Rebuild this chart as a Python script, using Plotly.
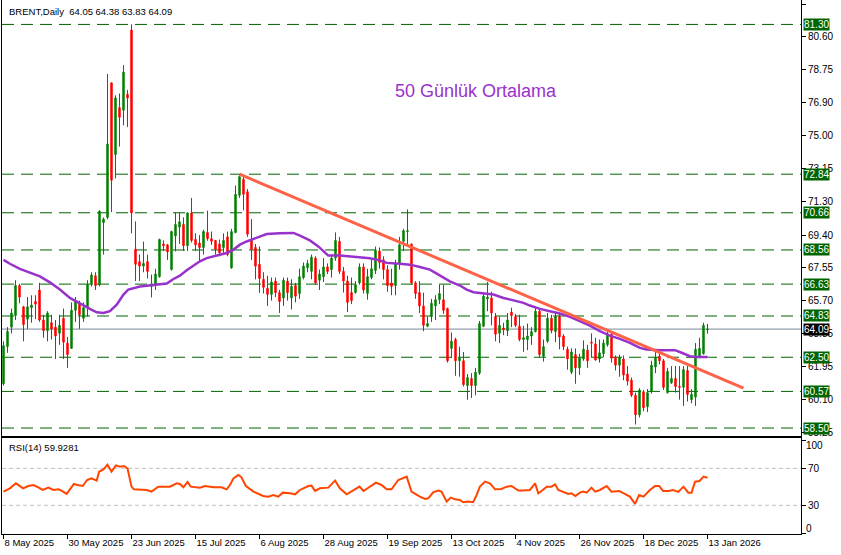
import plotly.graph_objects as go

# ---------------- data ----------------
opens = [61.0, 63.1, 64.2, 64.85, 66.55, 65.35, 64.65, 65.3, 65.65, 66.3,
         64.6, 64.0, 64.45, 64.2, 63.85, 64.7, 63.3, 63.0, 65.15, 65.5,
         64.7, 65.3, 66.6, 67.1, 66.6, 70.1, 70.4, 78.0, 73.95, 76.6,
         76.45, 77.35, 80.98, 68.6, 67.9, 67.65, 67.9, 66.5, 66.6, 67.05,
         68.9, 68.85, 67.45, 69.35, 69.85, 70.0, 68.8, 70.65, 69.15, 68.95,
         68.7, 69.55, 69.2, 69.1, 68.9, 68.7, 69.3, 67.55, 69.55, 71.65,
         72.55, 71.85, 69.15, 68.7, 67.75, 66.9, 66.4, 66.05, 66.8, 66.15,
         65.85, 66.8, 65.85, 66.55, 66.1, 67.0, 67.55, 67.35, 68.1, 66.85,
         67.05, 67.6, 67.45, 68.1, 69.05, 67.35, 66.8, 66.15, 66.15, 66.7,
         67.6, 66.1, 67.0, 67.4, 68.5, 68.0, 67.45, 66.7, 66.55, 67.8,
         69.05, 69.6, 68.9, 66.7, 66.15, 65.4, 64.25, 64.8, 65.4, 65.75,
         65.75, 65.25, 63.0, 63.5, 62.3, 62.3, 60.9, 61.3, 60.9, 61.6,
         64.25, 65.8, 65.85, 64.8, 63.85, 64.15, 64.0, 65.05, 64.8, 64.25,
         63.5, 63.5, 63.7, 63.95, 65.1, 62.55, 63.4, 64.7, 63.95, 64.8,
         63.7, 62.95, 61.65, 62.65, 61.9, 62.4, 62.9, 63.35, 63.25, 62.4,
         62.7, 63.2, 63.8, 62.5, 62.05, 62.4, 61.55, 61.2, 60.35, 59.25,
         60.55, 59.7, 60.55, 61.95, 62.55, 62.3, 60.5, 61.05, 61.3, 60.85,
         60.8, 61.75, 60.1, 60.25, 62.5, 62.7, 64.05]
highs = [63.4, 64.2, 65.25, 66.85, 66.65, 65.4, 65.9, 66.0, 66.0, 66.7,
         64.9, 65.1, 64.9, 64.6, 64.9, 65.25, 63.65, 65.6, 65.9, 65.7,
         65.6, 66.85, 67.3, 67.3, 70.8, 70.4, 78.5, 78.0, 77.3, 77.4,
         79.0, 77.6, 81.3, 70.17, 68.3, 69.03, 68.3, 67.17, 67.5, 69.2,
         69.1, 68.9, 69.65, 70.68, 70.68, 70.4, 70.68, 71.5, 69.5, 69.4,
         69.7, 70.78, 69.6, 69.1, 69.15, 69.5, 69.6, 69.75, 72.2, 72.84,
         72.8, 72.0, 70.3, 68.9, 68.76, 67.3, 67.1, 67.0, 67.0, 66.3,
         67.0, 67.0, 66.9, 66.7, 67.5, 67.85, 68.0, 68.3, 68.2, 67.45,
         68.1, 67.8, 68.3, 69.55, 69.3, 67.6, 67.1, 67.0, 66.8, 67.8,
         67.8, 67.5, 68.0, 68.75, 68.7, 68.2, 67.7, 67.5, 68.0, 69.3,
         69.75, 70.85, 68.9, 66.8, 66.8, 66.15, 64.8, 65.8, 66.0, 66.6,
         66.6, 65.3, 63.9, 63.6, 63.1, 62.8, 61.55, 61.6, 61.9, 64.55,
         66.15, 66.75, 66.2, 65.0, 64.8, 64.45, 65.0, 65.3, 64.95, 64.9,
         64.27, 64.4, 64.2, 65.3, 65.25, 63.5, 65.0, 64.9, 65.0, 65.0,
         63.8, 63.1, 63.0, 63.0, 62.7, 63.45, 63.2, 63.85, 63.6, 63.5,
         63.5, 64.1, 63.9, 62.6, 62.65, 62.6, 62.0, 61.35, 60.5, 60.75,
         60.65, 60.7, 62.3, 62.8, 62.85, 62.4, 61.9, 62.0, 62.0, 62.0,
         62.0, 62.0, 60.7, 63.3, 63.6, 64.45, 64.38]
lows = [60.9, 62.75, 63.85, 64.6, 65.55, 63.4, 64.1, 64.45, 64.65, 64.5,
        63.6, 63.4, 63.5, 62.4, 63.2, 62.4, 61.9, 63.0, 64.5, 64.1,
        64.5, 64.8, 66.5, 66.3, 66.5, 68.3, 70.3, 70.7, 72.6, 74.4,
        75.6, 75.5, 69.5, 66.8, 66.8, 67.3, 66.95, 65.88, 66.3, 67.0,
        68.5, 68.0, 67.4, 68.48, 68.9, 68.5, 68.5, 68.98, 68.5, 67.85,
        68.3, 69.08, 68.85, 68.3, 68.2, 68.35, 68.2, 67.5, 69.5, 71.5,
        70.8, 69.3, 68.0, 66.9, 66.14, 66.1, 65.4, 65.7, 65.9, 65.0,
        65.4, 65.7, 65.2, 65.6, 65.8, 66.9, 67.3, 66.9, 66.6, 66.3,
        66.75, 67.2, 67.0, 67.95, 67.2, 66.15, 65.05, 65.5, 66.1, 66.6,
        66.1, 65.75, 66.9, 67.2, 67.5, 66.9, 66.2, 66.0, 66.0, 67.45,
        68.5, 68.8, 66.6, 65.8, 65.0, 63.97, 64.2, 64.5, 64.6, 65.5,
        64.95, 62.2, 62.45, 61.45, 61.4, 60.85, 60.1, 60.2, 60.35, 61.5,
        64.2, 65.1, 64.3, 63.4, 63.3, 63.75, 63.7, 64.2, 64.2, 63.4,
        62.8, 62.9, 63.2, 63.9, 62.5, 62.25, 63.3, 63.85, 63.35, 62.95,
        62.9, 61.8, 61.55, 61.0, 61.5, 62.3, 61.9, 62.5, 62.3, 62.2,
        62.5, 63.1, 62.2, 61.75, 61.4, 61.2, 60.9, 60.25, 58.7, 59.1,
        59.45, 59.4, 60.45, 61.6, 62.1, 60.65, 60.45, 61.0, 60.5, 60.1,
        59.75, 60.0, 59.9, 59.75, 62.45, 62.65, 63.83]
closes = [63.15, 63.95, 65.0, 66.55, 65.9, 64.35, 65.35, 65.45, 65.5, 64.6,
          64.0, 65.0, 64.1, 63.7, 64.3, 63.35, 62.65, 65.15, 65.65, 64.9,
          65.3, 66.6, 67.15, 66.55, 70.75, 70.3, 74.55, 72.5, 77.15, 76.05,
          78.6, 77.15, 70.65, 67.75, 67.65, 67.8, 67.35, 66.65, 67.2, 69.15,
          68.8, 68.45, 69.6, 70.0, 70.15, 68.8, 70.65, 69.1, 68.85, 68.7,
          69.6, 69.2, 69.05, 68.6, 68.4, 69.1, 68.3, 69.6, 71.7, 72.7,
          71.7, 69.45, 68.6, 67.65, 66.95, 66.45, 66.05, 66.75, 66.15, 65.65,
          66.85, 66.15, 66.5, 65.95, 67.05, 67.65, 67.8, 68.15, 66.7, 67.2,
          67.6, 67.35, 68.1, 69.1, 67.35, 66.8, 65.6, 65.7, 66.6, 67.6,
          66.3, 67.05, 67.5, 68.55, 67.85, 67.45, 66.55, 66.5, 67.8, 68.85,
          69.65, 69.65, 66.7, 66.1, 65.4, 64.3, 64.4, 65.55, 65.75, 66.1,
          65.15, 62.3, 63.4, 62.3, 62.45, 60.95, 61.35, 60.9, 61.65, 64.4,
          65.95, 65.9, 65.0, 63.8, 64.3, 64.05, 64.6, 64.85, 64.3, 63.5,
          63.6, 63.7, 63.95, 65.1, 62.65, 63.1, 64.7, 64.0, 64.8, 63.65,
          63.1, 62.4, 62.8, 61.9, 62.45, 62.95, 62.3, 63.3, 62.35, 62.75,
          63.3, 63.8, 62.45, 62.05, 62.5, 61.5, 61.15, 60.35, 59.25, 60.65,
          59.65, 60.5, 62.05, 62.5, 62.3, 60.8, 61.7, 61.3, 60.85, 60.8,
          61.8, 60.4, 60.4, 62.95, 63.0, 64.3, 64.09]
bars = list(range(len(opens)))

# 50-day moving average, sampled along the bar axis
ma_x = [0, 1.6, 4.1, 6.6, 9.1, 11.6, 14.1, 16.6, 19.1, 21.6, 23.3, 25.0, 26.6,
        28.3, 30.0, 31.2, 34.1, 36.6, 39.1, 40.8, 42.5, 44.1, 45.8, 47.5, 49.1,
        50.8, 53.3, 55.8, 57.5, 59.1, 60.8, 62.5, 64.1, 65.8, 69.1, 72.5, 74.1,
        76.6, 78.7, 80.0, 81.2, 84.1, 86.6, 89.1, 91.6, 94.1, 95.8, 99.1, 101.6,
        104.1, 106.6, 108.3, 110.0, 111.6, 114.1, 115.8, 117.5, 120.0, 122.5,
        125.0, 127.5, 130.0, 131.6, 134.1, 136.6, 139.1, 141.6, 144.1, 146.6,
        149.1, 151.6, 154.1, 156.6, 159.1, 160.8, 164.1, 167.9, 170.0, 171.6,
        173.3, 176.0]
ma_y = [68.0, 67.78, 67.49, 67.26, 67.07, 66.73, 66.32, 65.85, 65.52, 65.23, 65.04,
        65.0, 65.1, 65.47, 66.04, 66.32, 66.5, 66.56, 66.6, 66.66, 66.92, 67.11,
        67.41, 67.68, 67.92, 68.1, 68.24, 68.39, 68.58, 68.86, 69.04, 69.18, 69.33,
        69.46, 69.5, 69.52, 69.37, 69.1, 68.76, 68.48, 68.24, 68.24, 68.2, 68.16,
        68.09, 67.97, 67.83, 67.78, 67.73, 67.6, 67.45, 67.22, 66.98, 66.79, 66.55,
        66.32, 66.17, 66.1, 66.04, 65.85, 65.72, 65.57, 65.42, 65.23, 65.1, 64.97,
        64.78, 64.53, 64.29, 63.97, 63.72, 63.54, 63.31, 63.03, 62.94, 62.9, 62.9,
        62.71, 62.56, 62.51, 62.51]

# RSI(14), sampled along the bar axis
rsi_x = [0, 1.6, 3.1, 4.1, 4.9, 6.2, 7.5, 8.7, 9.8, 11.2, 12.5, 13.7, 14.5, 15.8,
         16.8, 17.6, 18.5, 19.8, 20.9, 22.0, 23.3, 23.9, 25.0, 26.0, 27.0, 28.1,
         29.1, 30.1, 31.0, 32.0, 32.6, 35.0, 35.8, 37.0, 38.7, 41.6, 43.3, 44.1,
         45.0, 46.0, 46.8, 49.1, 50.4, 52.5, 54.5, 55.8, 56.6, 57.5, 58.7, 59.5,
         60.6, 62.5, 64.9, 66.2, 67.5, 68.7, 69.8, 71.6, 72.9, 74.1, 76.2, 77.0,
         77.9, 79.1, 81.2, 82.9, 84.1, 85.8, 87.5, 89.0, 90.0, 91.5, 93.1, 94.5,
         95.8, 97.0, 98.7, 100.8, 102.0, 104.1, 105.4, 106.2, 107.4, 108.7, 109.5,
         110.8, 111.8, 112.9, 114.1, 114.9, 116.2, 117.4, 118.3, 119.1, 120.4,
         121.6, 122.9, 124.5, 125.8, 127.0, 128.7, 129.9, 131.6, 132.9, 133.7,
         134.5, 135.8, 137.0, 137.9, 138.7, 140.0, 141.2, 142.0, 143.0, 144.1,
         144.9, 145.8, 147.0, 147.9, 149.1, 150.8, 152.0, 153.9, 154.9, 156.6,
         157.9, 158.9, 160.0, 161.6, 162.9, 163.9, 164.9, 166.2, 167.4, 168.7,
         170.0, 171.2, 172.0, 172.9, 174.0, 175.0, 176.0]
rsi_y = [44.8, 48.4, 53.8, 50.9, 48.4, 50.9, 52.0, 49.5, 46.6, 49.1, 46.6, 47.3,
         45.9, 42.3, 48.4, 53.1, 52.0, 50.9, 57.4, 59.2, 56.7, 66.4, 68.9, 74.0,
         66.4, 73.2, 71.8, 72.5, 70.0, 50.2, 47.3, 47.3, 46.6, 44.8, 50.2, 50.2,
         53.8, 53.1, 49.5, 55.2, 50.2, 49.1, 50.9, 49.5, 49.5, 47.3, 52.0, 59.2,
         62.8, 60.3, 50.9, 44.8, 40.1, 39.4, 41.2, 39.4, 43.7, 43.0, 41.9, 46.6,
         50.9, 51.3, 45.5, 48.4, 49.1, 56.7, 48.4, 41.9, 45.9, 50.2, 45.5, 49.5,
         54.5, 52.0, 47.3, 47.3, 57.4, 61.0, 44.8, 39.4, 36.9, 37.6, 44.1, 45.9,
         44.8, 34.0, 38.3, 36.5, 35.8, 33.3, 34.0, 33.3, 41.2, 50.2, 55.6, 53.8,
         47.3, 47.7, 50.2, 50.9, 45.9, 45.9, 46.6, 53.8, 43.0, 45.5, 50.2, 50.2,
         52.7, 46.6, 44.8, 42.3, 43.0, 40.1, 43.7, 44.8, 43.7, 49.1, 44.8, 46.6,
         50.9, 44.8, 45.5, 43.0, 39.4, 31.5, 41.2, 39.4, 46.6, 50.9, 50.9, 45.5,
         45.5, 46.6, 44.5, 50.2, 43.7, 43.7, 55.6, 56.3, 61.0, 59.9]

levels = [81.30, 72.84, 70.66, 68.56, 66.63, 64.83, 62.50, 60.57, 58.50]
last_price = 64.09
price_ticks = [82.45, 80.60, 78.75, 76.90, 75.00, 73.15, 71.30, 69.40, 67.55,
               65.70, 63.85, 61.95, 60.10, 58.25]
date_idx = [0, 16, 32, 48, 64, 80, 96, 112, 128, 144, 160, 176]
date_labels = ["8 May 2025", "30 May 2025", "23 Jun 2025", "15 Jul 2025",
               "6 Aug 2025", "28 Aug 2025", "19 Sep 2025", "13 Oct 2025",
               "4 Nov 2025", "26 Nov 2025", "18 Dec 2025", "13 Jan 2026"]
trend_x = [59, 185]
trend_y = [72.84, 60.75]
rsi_levels = [70, 30]
rsi_ticks = [100, 70, 30, 0]
header = "BRENT,Daily  64.05 64.38 63.83 64.09"
rsi_header = "RSI(14) 59.9281"
ma_caption = "50 Günlük Ortalama"

# ---------------- figure ----------------
FONT = "Liberation Sans, Arial, sans-serif"
GREEN_LVL = "#006400"
XR = [-0.375, 199.375]

fig = go.Figure()
fig.add_trace(go.Candlestick(
    x=bars, open=opens, high=highs, low=lows, close=closes,
    increasing=dict(line=dict(color="#008000", width=1), fillcolor="#008000"),
    decreasing=dict(line=dict(color="#FF0000", width=1), fillcolor="#FF0000"),
    whiskerwidth=0, hoverinfo="skip", xaxis="x", yaxis="y", showlegend=False))
fig.add_trace(go.Scatter(x=ma_x, y=ma_y, mode="lines", xaxis="x", yaxis="y",
                         line=dict(color="#9932CC", width=2.5), hoverinfo="skip",
                         showlegend=False))
fig.add_trace(go.Scatter(x=trend_x, y=trend_y, mode="lines", xaxis="x", yaxis="y",
                         line=dict(color="#FF6347", width=3), hoverinfo="skip",
                         showlegend=False))
fig.add_trace(go.Scatter(x=rsi_x, y=rsi_y, mode="lines", xaxis="x2", yaxis="y2",
                         line=dict(color="#FF4500", width=2), hoverinfo="skip",
                         showlegend=False))

shapes = []
for lv in levels:
    shapes.append(dict(type="line", xref="x domain", yref="y", x0=0, x1=1, y0=lv, y1=lv,
                       line=dict(color=GREEN_LVL, width=1, dash="12px,7px"), layer="below"))
shapes.append(dict(type="line", xref="x domain", yref="y", x0=0, x1=1,
                   y0=last_price, y1=last_price,
                   line=dict(color="#778899", width=1), layer="below"))
for lv in rsi_levels:
    shapes.append(dict(type="line", xref="x2 domain", yref="y2", x0=0, x1=1, y0=lv, y1=lv,
                       line=dict(color="#C0C0C0", width=1, dash="4px,3px"), layer="below"))

annotations = []
for lv in levels:
    annotations.append(dict(x=1, xref="paper", xanchor="left", xshift=2, y=lv, yref="y",
                            text=f"{lv:.2f}", showarrow=False, bgcolor=GREEN_LVL,
                            borderpad=0, font=dict(family=FONT, size=10, color="white")))
annotations.append(dict(x=1, xref="paper", xanchor="left", xshift=2, y=last_price, yref="y",
                        text=f"{last_price:.2f}", showarrow=False, bgcolor="black",
                        borderpad=0, font=dict(family=FONT, size=10, color="white")))
annotations.append(dict(x=0, xref="paper", xanchor="left", xshift=5, y=1, yref="paper",
                        yanchor="top", yshift=-4, text=header, showarrow=False,
                        font=dict(family=FONT, size=9.5, color="black")))
annotations.append(dict(x=0, xref="x2 domain", xanchor="left", xshift=5, y=1,
                        yref="y2 domain", yanchor="top", yshift=-2, text=rsi_header,
                        showarrow=False, font=dict(family=FONT, size=9.5, color="black")))
annotations.append(dict(x=118, xref="x", y=77.55, yref="y", text=ma_caption,
                        showarrow=False, font=dict(family=FONT, size=18, color="#9932CC")))
# MT4 draws the RSI window's extreme labels just inside the window
annotations.append(dict(x=1, xref="paper", xanchor="left", xshift=3, y=rsi_ticks[0],
                        yref="y2", yshift=-5, text=str(rsi_ticks[0]), showarrow=False,
                        font=dict(family=FONT, size=10, color="black")))
annotations.append(dict(x=1, xref="paper", xanchor="left", xshift=3, y=rsi_ticks[-1],
                        yref="y2", yshift=5, text=str(rsi_ticks[-1]), showarrow=False,
                        font=dict(family=FONT, size=10, color="black")))

axis_common = dict(showgrid=False, zeroline=False, showline=True, mirror=True,
                   linecolor="black", linewidth=1, automargin=False)

fig.update_layout(
    width=841, height=555,
    margin=dict(l=2, r=40, t=0, b=21),
    paper_bgcolor="white", plot_bgcolor="white",
    showlegend=False, boxgap=0.5,
    font=dict(family=FONT, size=10, color="black"),
    xaxis=dict(domain=[0, 1], anchor="y", range=XR, showticklabels=False, ticks="",
               rangeslider=dict(visible=False), **axis_common),
    yaxis=dict(domain=[0.1835, 1], anchor="x", side="right", range=[58.05, 82.68],
               tickvals=price_ticks, ticktext=[f"{v:.2f}" for v in price_ticks],
               ticks="outside", ticklen=4, tickcolor="black",
               tickfont=dict(family=FONT, size=10, color="black"), **axis_common),
    xaxis2=dict(domain=[0, 1], anchor="y2", range=XR, tickvals=date_idx,
                ticktext=date_labels, ticks="outside", ticklen=4, tickcolor="black",
                ticklabelposition="outside right",
                tickfont=dict(family=FONT, size=9.5, color="black"), **axis_common),
    yaxis2=dict(domain=[0, 0.1798], anchor="x2", side="right", range=[-1, 102.8],
                tickvals=rsi_ticks,
                ticktext=["" if v in (rsi_ticks[0], rsi_ticks[-1]) else str(v) for v in rsi_ticks],
                ticks="outside", ticklen=4, tickcolor="black",
                tickfont=dict(family=FONT, size=10, color="black"), **axis_common),
    shapes=shapes, annotations=annotations,
)

fig.write_html("out.html", include_plotlyjs=True, config={"displayModeBar": False},
               post_script="document.body.style.margin='0';")
